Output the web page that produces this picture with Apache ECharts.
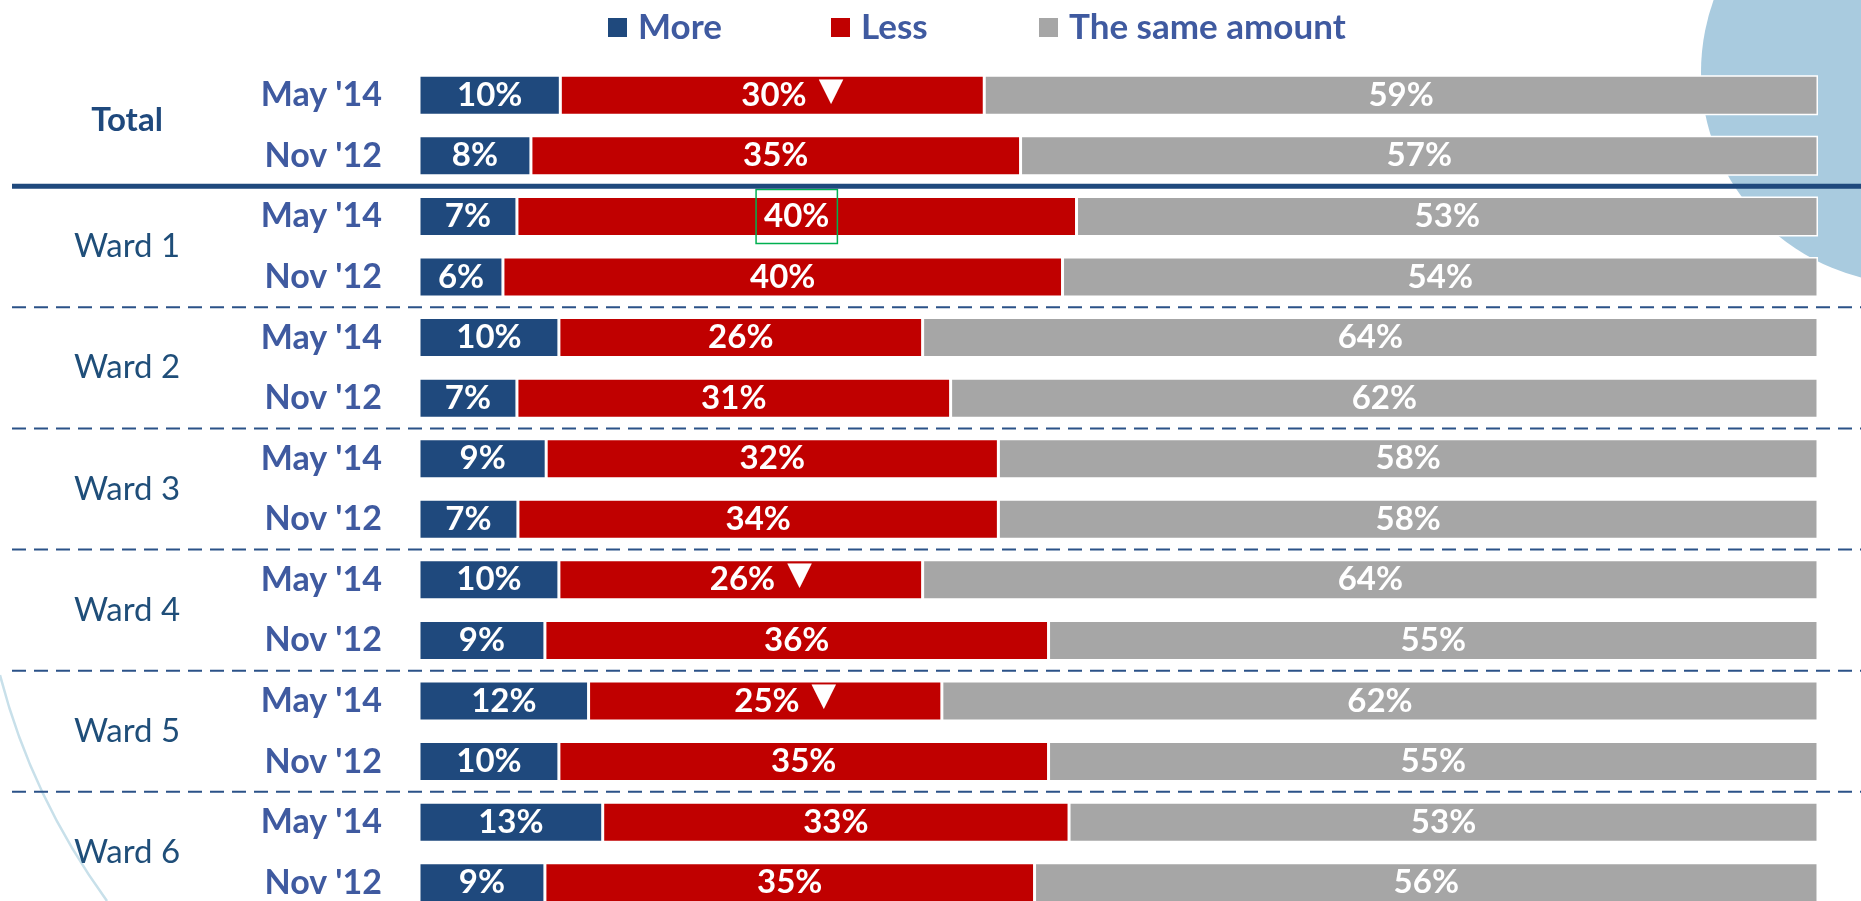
<!DOCTYPE html>
<html>
<head>
<meta charset="utf-8">
<title>More / Less / The same amount</title>
<script src="https://cdn.jsdelivr.net/npm/echarts@6/dist/echarts.min.js"></script>
<style>
  html, body { margin: 0; padding: 0; background: #fff; }
  #chart { width: 1861px; height: 901px; }
</style>
</head>
<body>
<div id="chart"></div>
<script>
const groups = ['Total', 'Ward 1', 'Ward 2', 'Ward 3', 'Ward 4', 'Ward 5', 'Ward 6'];
const periods = ["May '14", "Nov '12"];
const seriesNames = ['More', 'Less', 'The same amount'];
const more = [10, 8, 7, 6, 10, 7, 9, 7, 10, 9, 12, 10, 13, 9];
const less = [30, 35, 40, 40, 26, 31, 32, 34, 26, 36, 25, 35, 33, 35];
const same = [59, 57, 53, 54, 64, 62, 58, 58, 64, 55, 62, 55, 53, 56];
// rows where "Less" carries the ▼ marker
const dropRows = [0, 8, 10];
// row whose "Less" label is boxed in green
const boxedRow = 2;

const FONT = 'Lato, "Liberation Sans", sans-serif';
const colors = ['#1F497D', '#C00000', '#A6A6A6'];
const legendLeft = [608, 831, 1039];

const rows = groups.flatMap(g => periods.map(p => g + '|' + p));
const values = [more, less, same];
// bars are drawn as 100% stacked, labels keep the rounded values
const totals = more.map((v, i) => v + less[i] + same[i]);

const chart = echarts.init(document.getElementById('chart'));

const series = values.map((vals, s) => ({
  name: seriesNames[s],
  type: 'bar',
  stack: 'all',
  barWidth: 40,
  silent: true,
  itemStyle: { color: colors[s], borderColor: '#fff', borderWidth: 1.5 },
  label: {
    show: true,
    position: 'inside',
    color: '#fff',
    fontFamily: FONT,
    fontWeight: 'bold',
    fontSize: 33,
    formatter: p => {
      const txt = vals[p.dataIndex] + '%';
      return s === 1 && dropRows.includes(p.dataIndex) ? '{v|' + txt + '}{t|▼}' : txt;
    },
    rich: {
      v: { color: '#fff', fontFamily: FONT, fontWeight: 'bold', fontSize: 33 },
      t: { color: '#fff', fontFamily: 'DejaVu Sans', fontSize: 32, padding: [0, 0, 8, 12] }
    }
  },
  data: vals.map((v, i) => {
    const item = { value: v / totals[i] * 100 };
    if (s === 1 && dropRows.includes(i)) item.label = { offset: [20, 0] };
    if (s === 1 && i === boxedRow) {
      item.label = { borderColor: '#00B050', borderWidth: 1.5, padding: [10, 8], lineHeight: 34 };
    }
    return item;
  })
}));

chart.setOption({
  animation: false,
  legend: seriesNames.map((n, i) => ({
    data: [n],
    left: legendLeft[i],
    top: 10,
    padding: 0,
    icon: 'rect',
    itemWidth: 19,
    itemHeight: 19,
    itemStyle: { borderWidth: 0 },
    selectedMode: false,
    textStyle: {
      color: '#3F5AA0',
      fontFamily: FONT,
      fontWeight: 'bold',
      fontSize: 35,
      padding: [0, 0, 0, 6]
    }
  })),
  grid: { left: 419, right: 43, top: 65, height: 848, outerBoundsMode: 'none' },
  xAxis: { type: 'value', min: 0, max: 100, show: false },
  yAxis: [
    {
      type: 'category',
      data: rows,
      inverse: true,
      axisLine: { show: false },
      axisTick: { show: false },
      splitLine: { show: false },
      axisLabel: {
        interval: 0,
        margin: 37,
        color: '#3F5AA0',
        fontFamily: FONT,
        fontWeight: 'bold',
        fontSize: 34,
        formatter: v => v.split('|')[1]
      }
    },
    {
      type: 'category',
      data: groups,
      inverse: true,
      position: 'left',
      axisLine: { show: false },
      axisTick: { show: false },
      splitLine: { show: false },
      axisLabel: {
        interval: 0,
        margin: 292,
        align: 'center',
        formatter: v => v === 'Total' ? '{b|' + v + '}' : '{n|' + v + '}',
        rich: {
          b: { color: '#1F497D', fontFamily: FONT, fontWeight: 'bold', fontSize: 33, padding: [0, 0, 10, 0] },
          n: { color: '#1F4E79', fontFamily: FONT, fontSize: 33 }
        }
      }
    }
  ],
  series: series
});

// separator lines sit on the category boundaries of the row axis
const yAt = i => chart.convertToPixel({ yAxisIndex: 0 }, i);
const boundary = i => (yAt(i - 1) + yAt(i)) / 2;
const lines = [];
lines.push({
  type: 'line',
  shape: { x1: 12, y1: boundary(2), x2: 1861, y2: boundary(2) },
  style: { stroke: '#1F497D', lineWidth: 5 },
  z: 10
});
[4, 6, 8, 10, 12].forEach(i => {
  lines.push({
    type: 'line',
    shape: { x1: 12, y1: boundary(i), x2: 1861, y2: boundary(i) },
    style: { stroke: '#2B5288', lineWidth: 2, lineDash: [14, 8] },
    z: 10
  });
});

chart.setOption({
  graphic: {
    elements: [
      {
        type: 'circle',
        shape: { cx: 1913, cy: 72, r: 212 },
        style: { fill: '#A9CBDF' },
        silent: true,
        z: -10
      },
      {
        type: 'bezierCurve',
        shape: { x1: 0, y1: 675, cpx1: 31, cpy1: 796, x2: 107, y2: 901 },
        style: { stroke: '#C8E0EA', lineWidth: 2.5, fill: null },
        silent: true,
        z: -10
      }
    ].concat(lines)
  }
});
</script>
</body>
</html>
